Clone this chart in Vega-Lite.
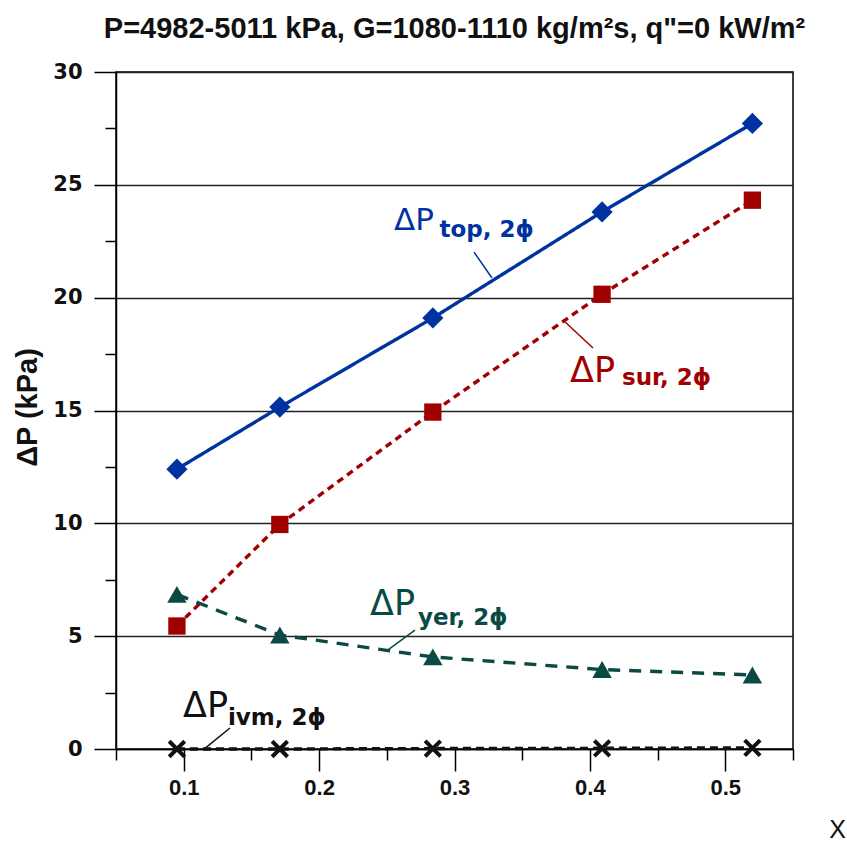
{
  "$schema": "https://vega.github.io/schema/vega-lite/v6.json",
  "width": 677,
  "height": 677,
  "autosize": {"type": "none"},
  "padding": {"left": 116, "top": 72, "right": 54, "bottom": 92},
  "background": "white",
  "config": {
    "view": {"stroke": "black", "strokeWidth": 1.5},
    "font": "Liberation Sans"
  },
  "title": {
    "text": "P=4982-5011 kPa, G=1080-1110 kg/m²s, q\"=0 kW/m²",
    "font": "Liberation Sans",
    "fontSize": 29,
    "fontWeight": "bold",
    "color": "#111",
    "anchor": "middle",
    "baseline": "alphabetic",
    "offset": -6
  },
  "datasets": {
    "series": [
      {"x": 0.095, "y": 12.4, "s": "top"},
      {"x": 0.171, "y": 15.15, "s": "top"},
      {"x": 0.284, "y": 19.1, "s": "top"},
      {"x": 0.409, "y": 23.8, "s": "top"},
      {"x": 0.52, "y": 27.72, "s": "top"},
      {"x": 0.095, "y": 5.45, "s": "sur"},
      {"x": 0.171, "y": 9.95, "s": "sur"},
      {"x": 0.284, "y": 14.93, "s": "sur"},
      {"x": 0.409, "y": 20.15, "s": "sur"},
      {"x": 0.52, "y": 24.32, "s": "sur"},
      {"x": 0.095, "y": 6.85, "s": "yer"},
      {"x": 0.171, "y": 5.05, "s": "yer"},
      {"x": 0.284, "y": 4.08, "s": "yer"},
      {"x": 0.409, "y": 3.52, "s": "yer"},
      {"x": 0.52, "y": 3.28, "s": "yer"},
      {"x": 0.095, "y": 0.0, "s": "ivm"},
      {"x": 0.171, "y": 0.0, "s": "ivm"},
      {"x": 0.284, "y": 0.02, "s": "ivm"},
      {"x": 0.409, "y": 0.03, "s": "ivm"},
      {"x": 0.52, "y": 0.05, "s": "ivm"}
    ],
    "labels": [
      {"s": "top", "x": 0.2553, "y": 23.0, "xs": 0.2889, "ys": 22.7, "sub": "top, 2ϕ", "lx": 0.3144, "ly": 22.02, "lx2": 0.3277, "ly2": 20.87},
      {"s": "sur", "x": 0.3853, "y": 16.26, "xs": 0.4237, "ys": 16.13, "sub": "sur, 2ϕ", "lx": 0.3801, "ly": 19.01, "lx2": 0.4023, "ly2": 17.77},
      {"s": "yer", "x": 0.2376, "y": 5.94, "xs": 0.273, "ys": 5.49, "sub": "yer, 2ϕ", "lx": 0.2708, "ly": 5.27, "lx2": 0.2509, "ly2": 4.39},
      {"s": "ivm", "x": 0.0995, "y": 1.42, "xs": 0.1327, "ys": 1.06, "sub": "ivm, 2ϕ", "lx": 0.1342, "ly": 0.93, "lx2": 0.1143, "ly2": -0.04}
    ]
  },
  "layer": [
    {
      "data": {"name": "series"},
      "mark": {"type": "line", "strokeWidth": 3.4},
      "encoding": {
        "x": {
          "field": "x", "type": "quantitative",
          "scale": {"domain": [0.05, 0.55], "nice": false, "zero": false},
          "axis": {
            "values": [0.05, 0.1, 0.15, 0.2, 0.25, 0.3, 0.35, 0.4, 0.45, 0.5, 0.55],
            "grid": false,
            "domainColor": "black", "domainWidth": 1.5,
            "tickColor": "black", "tickWidth": 1.5,
            "tickSize": {"condition": {"test": "abs(datum.value*10 - round(datum.value*10)) < 0.01", "value": 22}, "value": 11},
            "labelExpr": "abs(datum.value*10 - round(datum.value*10)) < 0.01 ? format(datum.value, '.1f') : ''",
            "labelFont": "Liberation Sans", "labelFontSize": 22, "labelFontWeight": "bold", "labelColor": "#111",
            "labelPadding": 6,
            "labelFlush": false,
            "labelOverlap": false,
            "title": "X",
            "titleFont": "Liberation Sans", "titleFontSize": 25, "titleFontWeight": "normal", "titleColor": "#111",
            "titleX": 721, "titleY": 88, "titleAlign": "center", "titleBaseline": "alphabetic"
          }
        },
        "y": {
          "field": "y", "type": "quantitative",
          "scale": {"domain": [0, 30], "nice": false},
          "axis": {
            "values": [0, 2.5, 5, 7.5, 10, 12.5, 15, 17.5, 20, 22.5, 25, 27.5, 30],
            "grid": true,
            "gridColor": "#222", "gridWidth": 1.6,
            "gridOpacity": {"condition": {"test": "datum.value % 5 == 0", "value": 1}, "value": 0},
            "domainColor": "black", "domainWidth": 1.5,
            "tickColor": "black", "tickWidth": 1.5,
            "tickSize": {"condition": {"test": "datum.value % 5 == 0", "value": 22}, "value": 11},
            "labelExpr": "datum.value % 5 == 0 ? format(datum.value, 'd') : ''",
            "labelFont": "DejaVu Sans", "labelFontSize": 21, "labelFontWeight": "bold", "labelColor": "#111",
            "labelPadding": 12,
            "labelFlush": false,
            "labelOverlap": false,
            "title": "ΔP (kPa)",
            "titleFont": "Liberation Sans", "titleFontSize": 29, "titleFontWeight": "bold", "titleColor": "#111",
            "titleAngle": -90, "titleX": -80, "titleY": 335, "titleAlign": "center", "titleBaseline": "alphabetic"
          }
        },
        "color": {
          "field": "s", "type": "nominal", "legend": null,
          "scale": {"domain": ["top", "sur", "yer", "ivm"], "range": ["#0033a0", "#a00000", "#0b4a44", "#111111"]}
        },
        "strokeDash": {
          "field": "s", "type": "nominal", "legend": null,
          "scale": {"domain": ["top", "sur", "yer", "ivm"], "range": [[1, 0], [7, 5], [12, 9], [8, 5]]}
        },
        "detail": {"field": "s"}
      }
    },
    {
      "data": {"name": "series"},
      "transform": [{"filter": "datum.s == 'top'"}],
      "mark": {"type": "point", "filled": true, "opacity": 1, "shape": "diamond", "size": 450},
      "encoding": {
        "x": {"field": "x", "type": "quantitative"},
        "y": {"field": "y", "type": "quantitative"},
        "color": {"field": "s", "type": "nominal", "legend": null}
      }
    },
    {
      "data": {"name": "series"},
      "transform": [{"filter": "datum.s == 'sur'"}],
      "mark": {"type": "point", "filled": true, "opacity": 1, "shape": "square", "size": 300},
      "encoding": {
        "x": {"field": "x", "type": "quantitative"},
        "y": {"field": "y", "type": "quantitative"},
        "color": {"field": "s", "type": "nominal", "legend": null}
      }
    },
    {
      "data": {"name": "series"},
      "transform": [{"filter": "datum.s == 'yer'"}],
      "mark": {"type": "point", "filled": true, "opacity": 1, "shape": "triangle-up", "size": 380},
      "encoding": {
        "x": {"field": "x", "type": "quantitative"},
        "y": {"field": "y", "type": "quantitative"},
        "color": {"field": "s", "type": "nominal", "legend": null}
      }
    },
    {
      "data": {"name": "series"},
      "transform": [{"filter": "datum.s == 'ivm'"}],
      "mark": {"type": "point", "filled": false, "shape": "M-1,-1L1,1M1,-1L-1,1", "size": 240, "strokeWidth": 4, "opacity": 1, "color": "#111111"},
      "encoding": {
        "x": {"field": "x", "type": "quantitative"},
        "y": {"field": "y", "type": "quantitative"}
      }
    },
    {
      "data": {"name": "labels"},
      "mark": {"type": "rule", "strokeWidth": 1.5},
      "encoding": {
        "x": {"field": "lx", "type": "quantitative"},
        "y": {"field": "ly", "type": "quantitative"},
        "x2": {"field": "lx2"},
        "y2": {"field": "ly2"},
        "color": {"field": "s", "type": "nominal", "legend": null}
      }
    },
    {
      "data": {"name": "labels"},
      "transform": [{"filter": "datum.s == 'top'"}],
      "mark": {"type": "text", "font": "DejaVu Sans", "fontSize": 31, "align": "left", "baseline": "alphabetic"},
      "encoding": {
        "x": {"field": "x", "type": "quantitative"},
        "y": {"field": "y", "type": "quantitative"},
        "text": {"value": "ΔP"},
        "color": {"field": "s", "type": "nominal", "legend": null}
      }
    },
    {
      "data": {"name": "labels"},
      "transform": [{"filter": "datum.s != 'top'"}],
      "mark": {"type": "text", "font": "DejaVu Sans", "fontSize": 35, "align": "left", "baseline": "alphabetic"},
      "encoding": {
        "x": {"field": "x", "type": "quantitative"},
        "y": {"field": "y", "type": "quantitative"},
        "text": {"value": "ΔP"},
        "color": {"field": "s", "type": "nominal", "legend": null}
      }
    },
    {
      "data": {"name": "labels"},
      "mark": {"type": "text", "font": "DejaVu Sans", "fontSize": 23, "fontWeight": "bold", "align": "left", "baseline": "alphabetic"},
      "encoding": {
        "x": {"field": "xs", "type": "quantitative"},
        "y": {"field": "ys", "type": "quantitative"},
        "text": {"field": "sub"},
        "color": {"field": "s", "type": "nominal", "legend": null}
      }
    }
  ]
}
